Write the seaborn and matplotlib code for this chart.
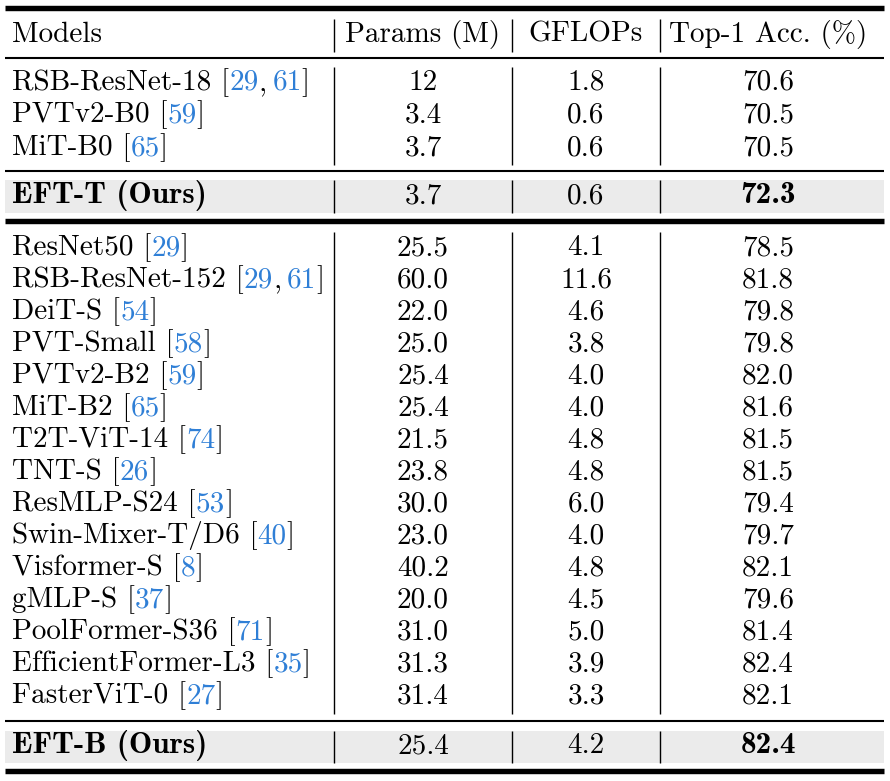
import matplotlib
matplotlib.use('Agg')
import matplotlib.pyplot as plt
import seaborn as sns

# %% data
header = ['Models', 'Params (M)', 'GFLOPs', 'Top-1 Acc. (%)']

models_tiny = ['RSB-ResNet-18', 'PVTv2-B0', 'MiT-B0']
cites_tiny = [['29', '61'], ['59'], ['65']]
params_tiny = ['12', '3.4', '3.7']
gflops_tiny = ['1.8', '0.6', '0.6']
acc_tiny = ['70.6', '70.5', '70.5']

ours_tiny = ['EFT-T (Ours)', '3.7', '0.6', '72.3']

models_base = ['ResNet50', 'RSB-ResNet-152', 'DeiT-S', 'PVT-Small', 'PVTv2-B2',
               'MiT-B2', 'T2T-ViT-14', 'TNT-S', 'ResMLP-S24', 'Swin-Mixer-T/D6',
               'Visformer-S', 'gMLP-S', 'PoolFormer-S36', 'EfficientFormer-L3',
               'FasterViT-0']
cites_base = [['29'], ['29', '61'], ['54'], ['58'], ['59'], ['65'], ['74'], ['26'],
              ['53'], ['40'], ['8'], ['37'], ['71'], ['35'], ['27']]
params_base = ['25.5', '60.0', '22.0', '25.0', '25.4', '25.4', '21.5', '23.8',
               '30.0', '23.0', '40.2', '20.0', '31.0', '31.3', '31.4']
gflops_base = ['4.1', '11.6', '4.6', '3.8', '4.0', '4.0', '4.8', '4.8',
               '6.0', '4.0', '4.8', '4.5', '5.0', '3.9', '3.3']
acc_base = ['78.5', '81.8', '79.8', '79.8', '82.0', '81.6', '81.5', '81.5',
            '79.4', '79.7', '82.1', '79.6', '81.4', '82.4', '82.1']

ours_base = ['EFT-B (Ours)', '25.4', '4.2', '82.4']

# %% style
sns.set_theme(style='white')
plt.rcParams['font.family'] = ['cmr10', 'DejaVu Serif']
plt.rcParams['axes.formatter.use_mathtext'] = True
plt.rcParams['text.color'] = 'black'
FS = 21
FS_BOLD = 22.5
BLUE = '#2f7fd6'
GRAY = '#ebebeb'
col_x = [12, 423, 586, 768]
x0, x1 = 5, 884

fig = plt.figure(figsize=(8.9, 7.81), dpi=100)
ax = fig.add_axes([0, 0, 1, 1])
ax.set_xlim(0, 890)
ax.set_ylim(781, 0)
ax.axis('off')
renderer = fig.canvas.get_renderer()


def text_width(s):
    # width including trailing spaces, measured against a guard glyph
    t = ax.text(0, 0, s + '|', fontsize=FS, family='cmr10')
    r = ax.text(0, 0, '|', fontsize=FS, family='cmr10')
    w = t.get_window_extent(renderer).width - r.get_window_extent(renderer).width
    t.remove()
    r.remove()
    return w


def draw_model(y, name, cites):
    x = col_x[0]
    prefix = name + ' ['
    ax.text(x, y, prefix, fontsize=FS, va='baseline', ha='left', family='cmr10')
    x += text_width(prefix)
    for i, c in enumerate(cites):
        if i:
            ax.text(x, y, ',', fontsize=FS, va='baseline', ha='left', family='cmr10')
            x += text_width(',') + 6
        ax.text(x, y, c, color=BLUE, fontsize=FS, va='baseline', ha='left', family='cmr10')
        x += text_width(c)
    ax.text(x, y, ']', fontsize=FS, va='baseline', ha='left', family='cmr10')


def draw_row(y, name, cites, vals, bold=False):
    if bold:
        ax.text(col_x[0], y, name, fontsize=FS_BOLD, va='baseline', ha='left', family='cmb10')
    else:
        draw_model(y, name, cites)
    for j, v in enumerate(vals):
        if bold and j == 2:
            ax.text(col_x[j + 1], y, v, fontsize=FS_BOLD, va='baseline', ha='center', family='cmb10')
        else:
            ax.text(col_x[j + 1], y, v, fontsize=FS, va='baseline', ha='center', family='cmr10')


def vsep(ya, yb):
    ax.vlines([334, 512, 660], ya, yb, color='black', lw=1.0)


# shading for own models
ax.axhspan(180, 213, xmin=x0 / 890, xmax=x1 / 890, color=GRAY, lw=0)
ax.axhspan(731, 763, xmin=x0 / 890, xmax=x1 / 890, color=GRAY, lw=0)

# rules
ax.hlines([7.5, 221, 771], x0, x1, color='black', lw=3.9)
ax.hlines([58, 171, 721], x0, x1, color='black', lw=1.5)

# header
ax.text(col_x[0], 42, header[0], fontsize=FS, va='baseline', ha='left')
for j in range(1, 4):
    ax.text(col_x[j], 42, header[j], fontsize=FS, va='baseline', ha='center')
vsep(19, 52)

# tiny group
for i in range(len(models_tiny)):
    draw_row(90 + 32.5 * i, models_tiny[i], cites_tiny[i],
             [params_tiny[i], gflops_tiny[i], acc_tiny[i]])
vsep(67, 165)
draw_row(203, ours_tiny[0], None, ours_tiny[1:], bold=True)
vsep(180, 213)

# base group
for i in range(len(models_base)):
    draw_row(255 + 32 * i, models_base[i], cites_base[i],
             [params_base[i], gflops_base[i], acc_base[i]])
vsep(232, 714)
draw_row(753, ours_base[0], None, ours_base[1:], bold=True)
vsep(731, 763)

fig.savefig('out.png', dpi=100)
